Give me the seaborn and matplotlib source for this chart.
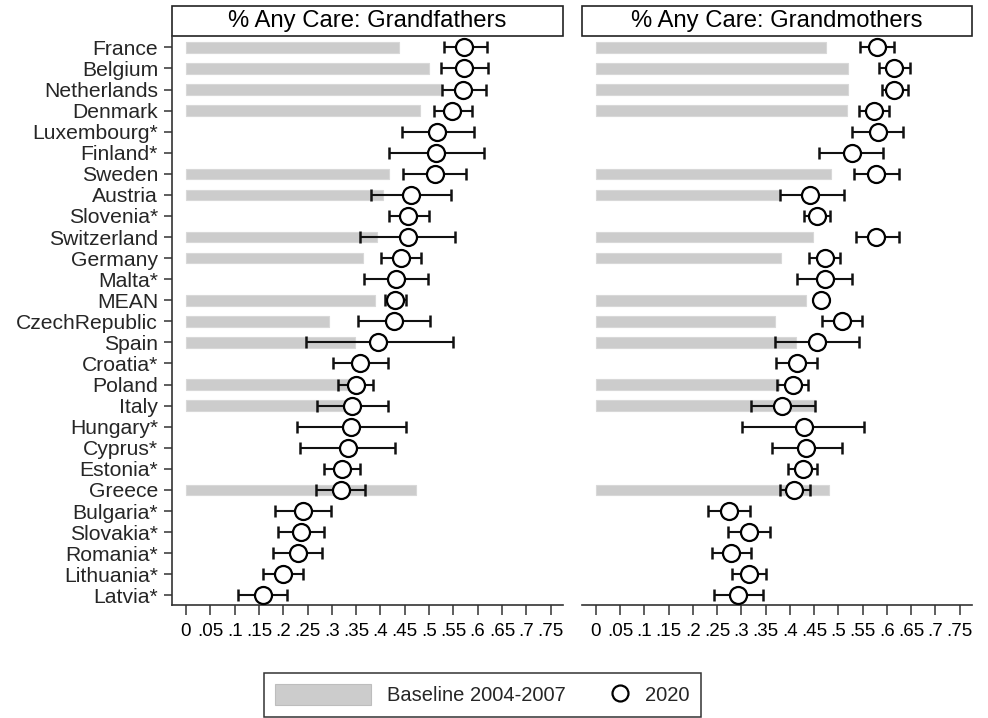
import numpy as np
import pandas as pd
import seaborn as sns
import matplotlib.pyplot as plt
from matplotlib.patches import Patch, Rectangle
from matplotlib.lines import Line2D
from matplotlib.legend_handler import HandlerLine2D

nan = np.nan

countries = ["France", "Belgium", "Netherlands", "Denmark", "Luxembourg*", "Finland*",
             "Sweden", "Austria", "Slovenia*", "Switzerland", "Germany", "Malta*", "MEAN",
             "CzechRepublic", "Spain", "Croatia*", "Poland", "Italy", "Hungary*", "Cyprus*",
             "Estonia*", "Greece", "Bulgaria*", "Slovakia*", "Romania*", "Lithuania*", "Latvia*"]

# grandfathers
gf_base = [0.439, 0.501, 0.524, 0.481, nan, nan, 0.418, 0.405, nan, 0.392, 0.364, nan, 0.389,
           0.294, 0.348, nan, 0.340, 0.330, nan, nan, nan, 0.473, nan, nan, nan, nan, nan]
gf_2020 = [0.572, 0.572, 0.569, 0.547, 0.517, 0.514, 0.512, 0.463, 0.457, 0.456, 0.442, 0.432,
           0.430, 0.429, 0.396, 0.358, 0.349, 0.341, 0.339, 0.334, 0.320, 0.318, 0.241, 0.236,
           0.230, 0.199, 0.158]
gf_lo = [0.531, 0.524, 0.526, 0.510, 0.444, 0.418, 0.446, 0.381, 0.418, 0.359, 0.401, 0.367,
         0.410, 0.353, 0.246, 0.302, 0.312, 0.270, 0.228, 0.235, 0.284, 0.267, 0.184, 0.189,
         0.180, 0.158, 0.108]
gf_hi = [0.619, 0.622, 0.617, 0.589, 0.593, 0.614, 0.576, 0.545, 0.499, 0.554, 0.484, 0.497,
         0.452, 0.503, 0.549, 0.415, 0.385, 0.416, 0.453, 0.431, 0.357, 0.369, 0.299, 0.283,
         0.279, 0.241, 0.208]

# grandmothers
gm_base = [0.475, 0.519, 0.519, 0.518, nan, nan, 0.485, 0.377, nan, 0.448, 0.381, nan, 0.434,
           0.369, 0.413, nan, 0.378, 0.451, nan, nan, nan, 0.481, nan, nan, nan, nan, nan]
gm_2020 = [0.580, 0.614, 0.614, 0.573, 0.582, 0.528, 0.578, 0.442, 0.455, 0.578, 0.472, 0.472,
           0.464, 0.508, 0.456, 0.414, 0.406, 0.383, 0.429, 0.434, 0.427, 0.409, 0.274, 0.315,
           0.278, 0.315, 0.294]
gm_lo = [0.545, 0.583, 0.590, 0.542, 0.528, 0.460, 0.533, 0.379, 0.430, 0.536, 0.440, 0.415,
         0.456, 0.466, 0.369, 0.371, 0.374, 0.319, 0.301, 0.363, 0.397, 0.379, 0.231, 0.273,
         0.239, 0.280, 0.243]
gm_hi = [0.615, 0.648, 0.643, 0.604, 0.633, 0.593, 0.626, 0.511, 0.482, 0.626, 0.504, 0.528,
         0.472, 0.549, 0.543, 0.456, 0.438, 0.451, 0.553, 0.507, 0.455, 0.442, 0.318, 0.358,
         0.320, 0.350, 0.344]

titles = ["% Any Care: Grandfathers", "% Any Care: Grandmothers"]
xtick_values = [0, .05, .1, .15, .2, .25, .3, .35, .4, .45, .5, .55, .6, .65, .7, .75]
xtick_labels = ["0", ".05", ".1", ".15", ".2", ".25", ".3", ".35", ".4", ".45", ".5", ".55",
                ".6", ".65", ".7", ".75"]

sns.set_theme(style="ticks")
plt.rcParams["font.family"] = ["Liberation Sans", "DejaVu Sans"]

BAR = "#cccccc"


class EndMarker(HandlerLine2D):
    # put the legend circle near the right end of its handle box
    def get_xdata(self, legend, xdescent, ydescent, width, height, fontsize):
        x = width - xdescent - 0.45 * fontsize
        return [x, x], [x]


fig = plt.figure(figsize=(9.88, 7.18), dpi=100)
W, H = 988, 718
ax1 = fig.add_axes([172 / W, 1 - 605 / H, 391 / W, 569 / H])
ax2 = fig.add_axes([582 / W, 1 - 605 / H, 390 / W, 569 / H])

panels = [(ax1, gf_base, gf_2020, gf_lo, gf_hi), (ax2, gm_base, gm_2020, gm_lo, gm_hi)]
pos = np.arange(len(countries))

for i, (ax, base, val, lo, hi) in enumerate(panels):
    df = pd.DataFrame({"country": countries, "base": base, "val": val, "lo": lo, "hi": hi})
    sns.barplot(data=df, x="base", y="country", order=countries, orient="h", color=BAR,
                saturation=1, width=0.5, errorbar=None, edgecolor="#d8d8d8", linewidth=0.8,
                ax=ax, zorder=1)
    ax.errorbar(df["val"], pos, xerr=[df["val"] - df["lo"], df["hi"] - df["val"]], fmt="none",
                ecolor="#111111", elinewidth=1.5, capsize=4.5, capthick=1.8, zorder=3)
    sns.scatterplot(x=df["val"], y=pos, ax=ax, s=150, color="white", edgecolor="black",
                    linewidth=1.6, zorder=4, legend=False)

    ax.set_xlim(-0.0288, 0.7757)
    ax.set_ylim(26.46, -0.54)
    ax.set_xticks(xtick_values)
    ax.set_xticklabels(xtick_labels, fontsize=13.5)
    ax.set_xlabel("")
    ax.set_ylabel("")
    ax.tick_params(axis="x", length=7, width=1.1, pad=6, colors="black", color="#333333")
    sns.despine(ax=ax, left=(i == 1))
    for s in ["left", "bottom"]:
        ax.spines[s].set_linewidth(1.2)
        ax.spines[s].set_color("#333333")
    if i == 0:
        ax.set_yticks(pos)
        ax.set_yticklabels(countries, fontsize=15.2)
        ax.tick_params(axis="y", length=6, width=1.1, pad=4, color="#333333")
    else:
        ax.set_yticks([])

    # boxed panel title
    hbox = 30 / 569
    ax.add_patch(Rectangle((0, 1), 1, hbox, transform=ax.transAxes, clip_on=False,
                           fill=False, edgecolor="#222222", linewidth=1.2))
    ax.text(0.5, 1 + hbox / 2, titles[i], transform=ax.transAxes, ha="center", va="center",
            fontsize=17.2, color="black")

handles = [Patch(facecolor=BAR, edgecolor="#bdbdbd", linewidth=0.8),
           Line2D([], [], linestyle="none", marker="o", markersize=11.5,
                  markerfacecolor="white", markeredgecolor="black", markeredgewidth=1.6)]
leg = fig.legend(handles, ["Baseline 2004-2007", "2020"], ncol=2, loc="upper left",
                 bbox_to_anchor=(264 / W, 1 - 673 / H), borderaxespad=0, fontsize=14.5,
                 handlelength=4.77, handleheight=1.24, handletextpad=0.8,
                 columnspacing=-1.65, borderpad=0.55, fancybox=False, framealpha=1,
                 edgecolor="#333333", handler_map={Line2D: EndMarker()})
leg.get_frame().set_linewidth(1.1)

fig.savefig("out.png", dpi=100)
